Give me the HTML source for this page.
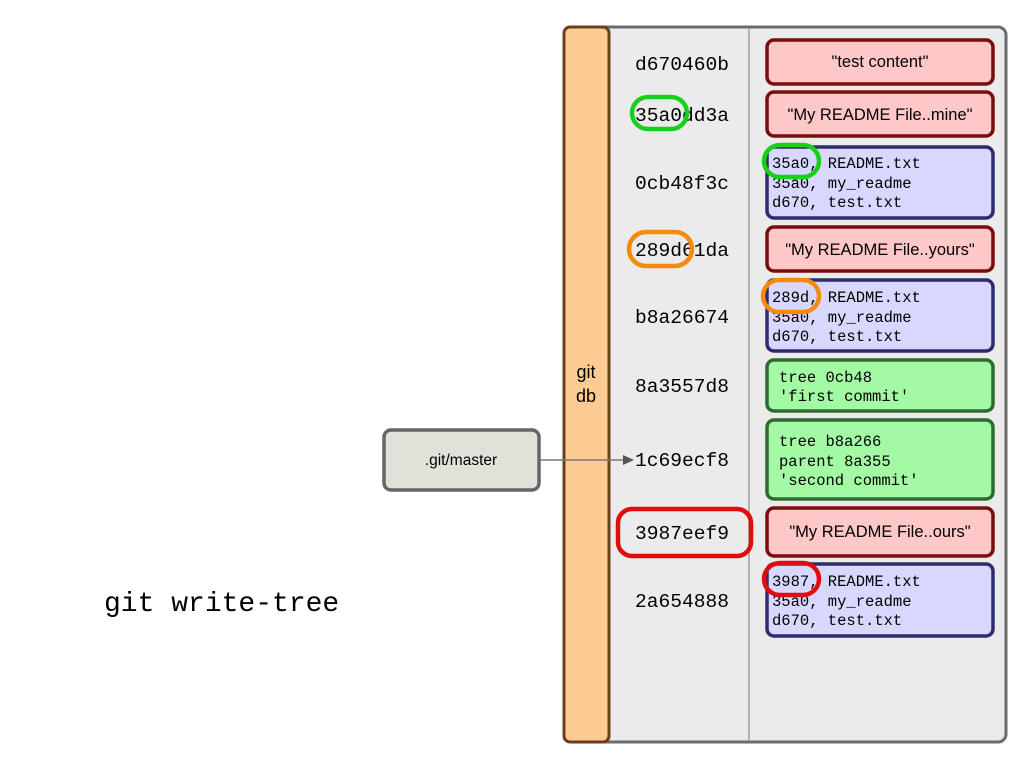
<!DOCTYPE html>
<html><head><meta charset="utf-8"><style>body{margin:0;background:#fff}svg{display:block}</style></head><body>
<svg width="1024" height="768" xmlns="http://www.w3.org/2000/svg">
<rect x="564" y="27" width="442" height="715" rx="8" fill="#ebebeb" stroke="#6b6b6b" stroke-width="3"/>
<rect x="564" y="27" width="45" height="715" rx="6" fill="#fecb92" stroke="#6b3f1a" stroke-width="3"/>
<line x1="749" y1="28" x2="749" y2="741" stroke="#a0a0a0" stroke-width="1.5"/>
<g font-family="Liberation Sans, sans-serif" font-size="18" fill="#000" text-anchor="middle">
<text x="586" y="378">git</text><text x="586" y="402">db</text>
</g>
<g font-family="Liberation Mono, monospace" font-size="19.6" fill="#000" text-anchor="middle">
<text x="682" y="70">d670460b</text>
<text x="682" y="121">35a0dd3a</text>
<text x="682" y="189">0cb48f3c</text>
<text x="682" y="256">289d61da</text>
<text x="682" y="323">b8a26674</text>
<text x="682" y="392">8a3557d8</text>
<text x="682" y="466">1c69ecf8</text>
<text x="682" y="539">3987eef9</text>
<text x="682" y="607">2a654888</text>
</g>
<g stroke-width="3.5">
<rect x="767" y="40" width="226" height="44" rx="7" fill="#fec8c8" stroke="#7a0c0c"/>
<rect x="767" y="92" width="226" height="44" rx="7" fill="#fec8c8" stroke="#7a0c0c"/>
<rect x="767" y="147" width="226" height="71" rx="7" fill="#d8d8fe" stroke="#2c2c6e"/>
<rect x="767" y="227" width="226" height="44" rx="7" fill="#fec8c8" stroke="#7a0c0c"/>
<rect x="767" y="280" width="226" height="71" rx="7" fill="#d8d8fe" stroke="#2c2c6e"/>
<rect x="767" y="360" width="226" height="51" rx="7" fill="#a4f9a4" stroke="#2e6b2e"/>
<rect x="767" y="420" width="226" height="79" rx="7" fill="#a4f9a4" stroke="#2e6b2e"/>
<rect x="767" y="508" width="226" height="48" rx="7" fill="#fec8c8" stroke="#7a0c0c"/>
<rect x="767" y="564" width="226" height="72" rx="7" fill="#d8d8fe" stroke="#2c2c6e"/>
</g>
<g font-family="Liberation Sans, sans-serif" font-size="16.5" fill="#000" text-anchor="middle">
<text x="880" y="67">"test content"</text>
<text x="880" y="120">"My README File..mine"</text>
<text x="880" y="255">"My README File..yours"</text>
<text x="880" y="537">"My README File..ours"</text>
</g>
<g font-family="Liberation Mono, monospace" font-size="15.5" fill="#000">
<text x="772" y="168">35a0, README.txt</text><text x="772" y="188">35a0, my_readme</text><text x="772" y="207">d670, test.txt</text>
<text x="772" y="302">289d, README.txt</text><text x="772" y="322">35a0, my_readme</text><text x="772" y="341">d670, test.txt</text>
<text x="779" y="382">tree 0cb48</text><text x="779" y="401">'first commit'</text>
<text x="779" y="446">tree b8a266</text><text x="779" y="466">parent 8a355</text><text x="779" y="485">'second commit'</text>
<text x="772" y="586">3987, README.txt</text><text x="772" y="606">35a0, my_readme</text><text x="772" y="625">d670, test.txt</text>
</g>
<rect x="384" y="430" width="155" height="60" rx="7" fill="#e0e2d8" stroke="#666" stroke-width="3.5"/>
<text x="461" y="465" font-family="Liberation Sans, sans-serif" font-size="15.5" text-anchor="middle">.git/master</text>
<line x1="540" y1="460" x2="624" y2="460" stroke="#777" stroke-width="1.5"/>
<polygon points="623,455 634,460 623,465" fill="#555"/>
<text x="104" y="611" font-family="Liberation Mono, monospace" font-size="28">git write-tree</text>
<g fill="none" stroke-width="4.5">
<rect x="632" y="97" width="55" height="32" rx="16" stroke="#19d019"/>
<rect x="764" y="145" width="55" height="32" rx="16" stroke="#19d019"/>
<rect x="629" y="232" width="63" height="34" rx="17" stroke="#f58a0b"/>
<rect x="763" y="280" width="56" height="32" rx="16" stroke="#f58a0b"/>
<rect x="618" y="509" width="133" height="47" rx="14" stroke="#e00d0d"/>
<rect x="764" y="563" width="55" height="32" rx="16" stroke="#e00d0d"/>
</g>
</svg>
</body></html>
